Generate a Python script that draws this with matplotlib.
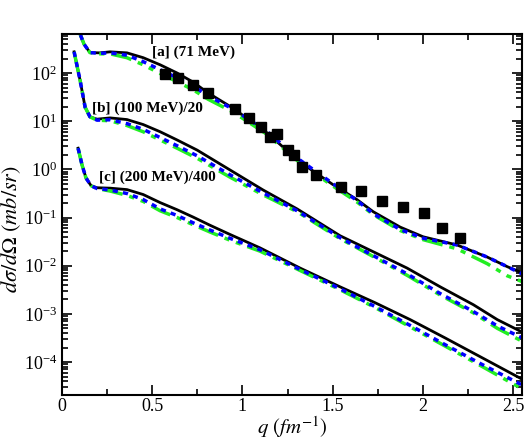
import matplotlib
matplotlib.use("Agg")
import matplotlib.pyplot as plt
import matplotlib.ticker as mticker

plt.rcParams['font.family'] = ['Liberation Serif', 'DejaVu Serif']
plt.rcParams['mathtext.fontset'] = 'stix'

# [a] 71 MeV
qa = [0.09, 0.10, 0.122, 0.155, 0.21, 0.266, 0.36, 0.45, 0.544, 0.638, 0.727, 0.81,
      0.948, 1.137, 1.32, 1.503, 1.636, 1.725, 1.875, 2.002, 2.19, 2.357, 2.468, 2.55]
a_black = [1000, 646, 398, 265, 262, 275, 262, 208, 148, 100, 64.6, 38.5,
           18.6, 5.69, 1.41, 0.479, 0.234, 0.132, 0.0631, 0.0398, 0.0269, 0.0151, 0.00955, 0.00708]
a_blue = [1000, 646, 398, 265, 256, 262, 234, 172, 117, 79.4, 53.7, 33.5,
          17.8, 6.10, 1.55, 0.501, 0.224, 0.120, 0.0562, 0.0372, 0.0269, 0.0151, 0.00955, 0.00676]
a_green = [1000, 646, 398, 265, 250, 250, 208, 148, 97.7, 66.1, 44.7, 28.5,
           15.5, 5.31, 1.35, 0.447, 0.209, 0.115, 0.0537, 0.0347, 0.0224, 0.0110, 0.00617, 0.00468]

# [b] 100 MeV / 20
qb = [0.067, 0.10, 0.128, 0.155, 0.194, 0.266, 0.36, 0.45, 0.544, 0.638, 0.749,
      0.93, 1.115, 1.303, 1.542, 1.725, 1.913, 2.097, 2.28, 2.413, 2.557]
b_black = [275, 70.8, 19.5, 12.3, 11.0, 11.7, 10.8, 8.51, 6.03, 4.07, 2.51,
           0.977, 0.372, 0.151, 0.0417, 0.0195, 0.00891, 0.00363, 0.00155, 0.000759, 0.000407]
b_blue = [275, 70.8, 19.5, 12.3, 10.5, 10.7, 8.91, 6.76, 4.57, 3.09, 1.91,
          0.776, 0.324, 0.138, 0.0380, 0.0162, 0.00676, 0.00263, 0.00112, 0.000562, 0.000309]
b_green = [275, 70.8, 19.5, 12.3, 10.5, 10.2, 8.13, 6.03, 4.07, 2.75, 1.70,
           0.692, 0.295, 0.132, 0.0363, 0.0155, 0.00631, 0.00245, 0.00105, 0.000501, 0.000263]

# [c] 200 MeV / 400
qc = [0.089, 0.111, 0.133, 0.161, 0.194, 0.266, 0.36, 0.45, 0.544, 0.638, 0.727,
      0.82, 0.93, 1.098, 1.32, 1.542, 1.736, 1.93, 2.124, 2.318, 2.557]
c_black = [2.75, 1.23, 0.661, 0.457, 0.415, 0.407, 0.380, 0.300, 0.204, 0.145, 0.102,
           0.0692, 0.0447, 0.0234, 0.00891, 0.00363, 0.00170, 0.000759, 0.000316, 0.000129, 0.0000427]
c_blue = [2.75, 1.23, 0.661, 0.457, 0.400, 0.372, 0.315, 0.236, 0.151, 0.110, 0.0776,
          0.0550, 0.0372, 0.0214, 0.00832, 0.00331, 0.00141, 0.000575, 0.000229, 0.0000933, 0.0000324]
c_green = [2.75, 1.23, 0.661, 0.457, 0.400, 0.355, 0.288, 0.216, 0.138, 0.100, 0.0708,
           0.0501, 0.0339, 0.0200, 0.00794, 0.00316, 0.00135, 0.000537, 0.000214, 0.0000851, 0.0000269]

# experimental data (71 MeV)
q_exp = [0.571, 0.643, 0.727, 0.810, 0.960, 1.037, 1.104, 1.154, 1.192, 1.253,
         1.287, 1.331, 1.409, 1.547, 1.658, 1.775, 1.891, 2.008, 2.108, 2.207]
y_exp = [95, 79, 56, 38, 17.9, 11.6, 7.6, 4.7, 5.4, 2.5,
         2.0, 1.12, 0.77, 0.43, 0.36, 0.22, 0.166, 0.124, 0.061, 0.038]
err_lo = [0, 0, 0, 0, 0, 0, 0, 0, 0, 0, 0, 0, 0, 0, 0, 0, 0, 0, 0, 0.006]
err_hi = [0, 0, 0, 0, 0, 0, 0, 0, 0, 0, 0, 0, 0, 0, 0, 0, 0, 0, 0, 0.007]

labels = ['[a] (71 MeV)', '[b] (100 MeV)/20', '[c] (200 MeV)/400']
label_pos = [(0.5, 275), (0.166, 18.6), (0.205, 0.69)]
yticks = [1e-4, 1e-3, 1e-2, 1e-1, 1e0, 1e1, 1e2]
xticks = [0, 0.5, 1, 1.5, 2, 2.5]

fig = plt.figure(figsize=(5.31, 4.43), dpi=100)
ax = fig.add_axes([0.1168, 0.1084, 0.8663, 0.8149])

green_ls = (0, (6, 2, 1.5, 2, 1.5, 2))
blue_ls = (0, (1.5, 1.5))
for q, yk, yb, yg in [(qa, a_black, a_blue, a_green),
                      (qb, b_black, b_blue, b_green),
                      (qc, c_black, c_blue, c_green)]:
    ax.plot(q, yk, color='black', lw=2)
    ax.plot(q, yg, color='#22ee22', lw=2.5, ls=green_ls)
    ax.plot(q, yb, color='#0000ff', lw=2.5, ls=blue_ls)

ax.errorbar(q_exp, y_exp, yerr=[err_lo, err_hi], fmt='s', color='black',
            ms=6.5, capsize=3, elinewidth=1)

for txt, (x, y) in zip(labels, label_pos):
    ax.text(x, y, txt, fontsize=11, fontweight='bold', va='center', ha='left')

ax.set_yscale('log')
ax.set_xlim(0, 2.55)
ax.set_ylim(2.07e-5, 646)
ax.set_xticks(xticks)
ax.xaxis.set_minor_locator(mticker.MultipleLocator(0.25))
ax.xaxis.set_major_formatter(mticker.FormatStrFormatter('%g'))
ax.set_yticks(yticks)
ax.yaxis.set_major_formatter(mticker.LogFormatterMathtext())
ax.yaxis.set_minor_locator(mticker.LogLocator(base=10, subs=range(2, 10), numticks=20))
ax.yaxis.set_minor_formatter(mticker.NullFormatter())
ax.tick_params(which='both', direction='in', top=True, right=True, labelsize=13, width=1.2)
ax.tick_params(which='major', length=7)
ax.tick_params(which='minor', length=4)
ax.tick_params(axis='x', pad=2)
for s in ax.spines.values():
    s.set_linewidth(1.5)

ax.set_xlabel(r'$q\ (fm^{-1})$', fontsize=15, labelpad=0)
ax.set_ylabel(r'$d\sigma/d\Omega\ (mb/sr)$', fontsize=16)
ax.yaxis.set_label_coords(-0.085, 0.46)

fig.savefig('out.png', dpi=100)
